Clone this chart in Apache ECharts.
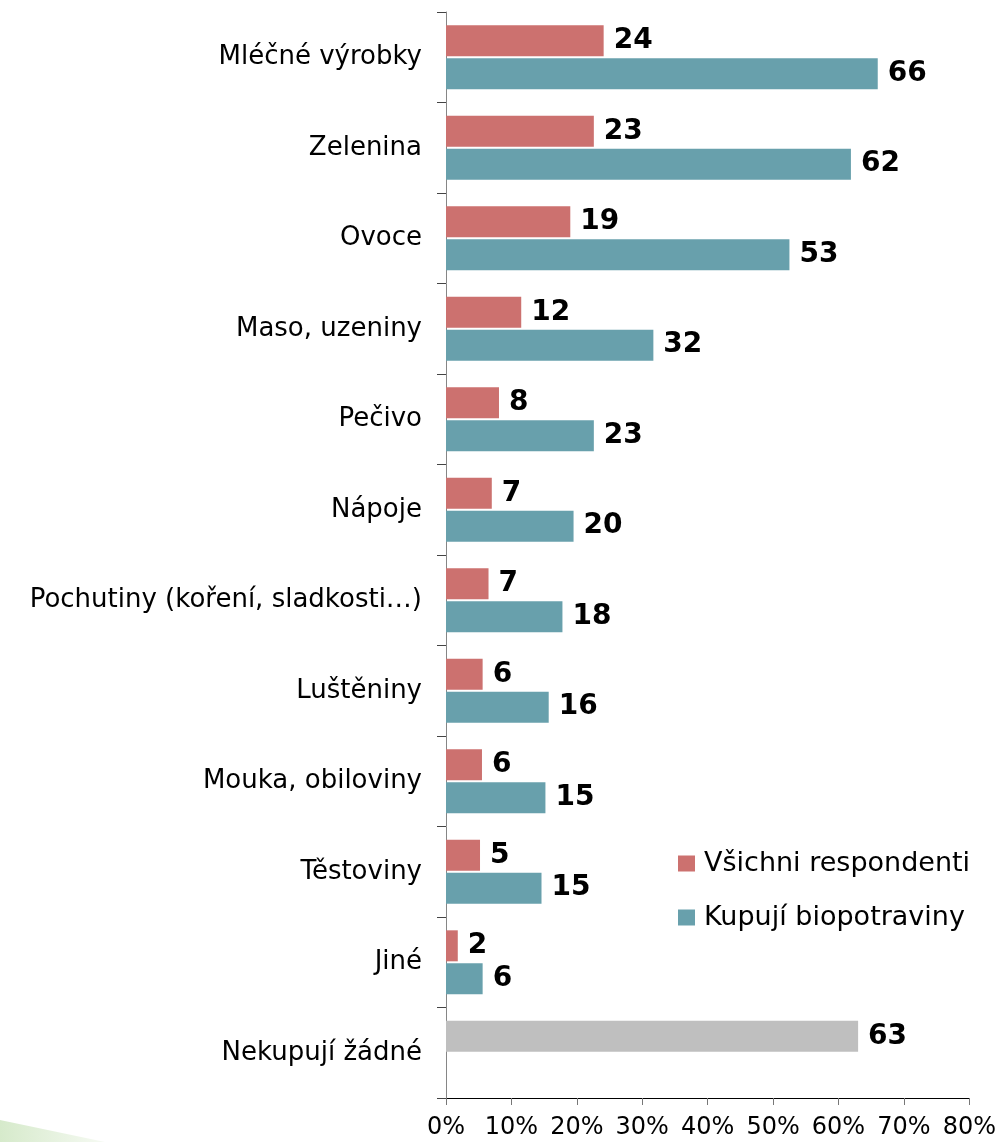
<!DOCTYPE html>
<html>
<head>
<meta charset="utf-8">
<script src="https://cdn.jsdelivr.net/npm/echarts@6/dist/echarts.min.js"></script>
<style>
  html, body { margin: 0; padding: 0; background: #fff; }
  #chart { width: 999px; height: 1142px; }
</style>
</head>
<body>
<div id="chart"></div>
<script>
// kategorie (shora dolu)
var categories = [
  'Mléčné výrobky', 'Zelenina', 'Ovoce', 'Maso, uzeniny', 'Pečivo', 'Nápoje',
  'Pochutiny (koření, sladkosti…)', 'Luštěniny', 'Mouka, obiloviny', 'Těstoviny',
  'Jiné', 'Nekupují žádné'
];
var seriesNames = ['Všichni respondenti', 'Kupují biopotraviny'];
// hodnoty v %
var allResp = [24.1, 22.6, 19.0, 11.5, 8.1, 7.0, 6.5, 5.6, 5.5, 5.2, 1.8, 63];
var bioBuyers = [66, 61.9, 52.5, 31.7, 22.6, 19.5, 17.8, 15.7, 15.2, 14.6, 5.6, null];
var xTicks = [0, 80, 10];

var FONT = '"DejaVu Sans", Verdana, sans-serif';
var chart = echarts.init(document.getElementById('chart'));

var allData = allResp.map(function (v, i) {
  if (i === allResp.length - 1) {
    return { value: v, itemStyle: { color: '#BFBFBF' } };
  }
  return v;
});
var bioData = bioBuyers.map(function (v) { return v == null ? '-' : v; });

var labelOpt = {
  show: true,
  position: 'right',
  distance: 10,
  color: '#000',
  fontFamily: FONT,
  fontWeight: 'bold',
  fontSize: 28,
  formatter: function (p) { return Math.round(p.value); }
};

chart.setOption({
  animation: false,
  textStyle: { fontFamily: FONT },
  grid: { left: 446, right: 28, top: 12, bottom: 44, containLabel: false },
  legend: {
    orient: 'vertical',
    left: 673,
    top: 845,
    itemWidth: 17,
    itemHeight: 16,
    itemGap: 27,
    icon: 'rect',
    data: seriesNames,
    textStyle: { fontSize: 27, color: '#000', fontFamily: FONT, padding: [0, 0, 0, 4] }
  },
  xAxis: {
    type: 'value',
    min: xTicks[0],
    max: xTicks[1],
    interval: xTicks[2],
    axisLine: { show: true, lineStyle: { color: '#000' } },
    axisTick: { show: true, length: 7, lineStyle: { color: '#777' } },
    splitLine: { show: false },
    axisLabel: { formatter: '{value}%', fontSize: 24, color: '#000', margin: 18, fontFamily: FONT }
  },
  yAxis: {
    type: 'category',
    inverse: true,
    data: categories,
    axisLine: { show: true, lineStyle: { color: '#868686' } },
    axisTick: { show: true, length: 9, lineStyle: { color: '#444' } },
    axisLabel: { fontSize: 26, color: '#000', margin: 24, fontFamily: FONT }
  },
  graphic: [{
    type: 'polygon',
    shape: { points: [[0, 1120], [105, 1142], [0, 1142]] },
    style: {
      fill: new echarts.graphic.LinearGradient(0, 0, 1, 0, [
        { offset: 0, color: '#d6eacb' },
        { offset: 1, color: '#f6faf3' }
      ])
    },
    z: -1
  }],
  series: [
    {
      name: seriesNames[0],
      type: 'bar',
      barWidth: 31,
      barGap: '6%',
      itemStyle: { color: '#CC716F' },
      label: labelOpt,
      data: allData
    },
    {
      name: seriesNames[1],
      type: 'bar',
      barWidth: 31,
      barGap: '6%',
      itemStyle: { color: '#68A0AC' },
      label: labelOpt,
      data: bioData
    }
  ]
});
</script>
</body>
</html>
